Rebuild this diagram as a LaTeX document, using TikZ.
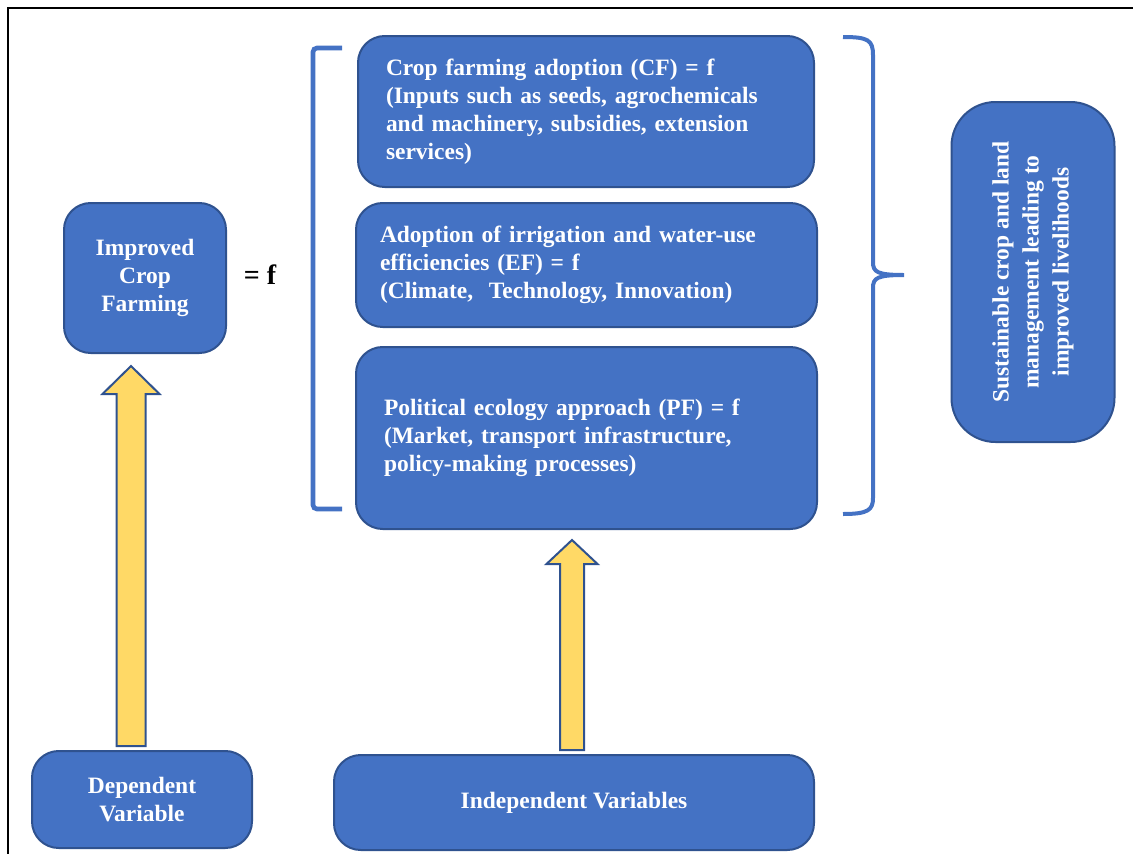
\documentclass[tikz,border=0pt]{standalone}
\usepackage{fontspec}
\setmainfont{Liberation Serif}
\usetikzlibrary{calc}
\definecolor{boxblue}{HTML}{4472C4}
\definecolor{boxedge}{HTML}{2F528F}
\definecolor{arrowgold}{HTML}{FFD966}
\begin{document}
\begin{tikzpicture}[x=0.75pt,y=-0.75pt,
  varbox/.style={rectangle,rounded corners=20pt,draw=boxedge,fill=boxblue,line width=1.5pt,
    text=white,font=\fontsize{17.6}{21}\selectfont\bfseries,inner sep=0pt},
  uparrow/.style={draw=boxedge,fill=arrowgold,line width=1.5pt,line join=miter},
  bracket/.style={draw=boxblue,line width=3.5pt}]
\useasboundingbox (0,0) rectangle (1133,854);
\draw[line width=2pt] (8,854) -- (8,8) -- (1133,8);
\node[varbox,minimum width=121.5pt,minimum height=112.5pt,align=center] (icf) at (145,278)
  {Improved\\Crop\\Farming};
\node[font=\fontsize{21}{24}\selectfont\bfseries] (eqf) at (260,275) {= f};
\node[varbox,text width=300pt,inner xsep=21pt,minimum height=113.25pt,align=left] (cf) at (586,111.5)
  {Crop farming adoption (CF) = f\\(Inputs such as seeds, agrochemicals\\and machinery, subsidies, extension\\services)};
\node[varbox,text width=309.75pt,inner xsep=18pt,minimum height=93pt,align=left] (ef) at (586.5,265)
  {Adoption of irrigation and water-use\\efficiencies (EF) = f\\(Climate,\ \ Technology, Innovation)};
\node[varbox,text width=303.75pt,inner xsep=21pt,minimum height=136.5pt,align=left] (pf) at (586.5,438)
  {Political ecology approach (PF) = f\\(Market, transport infrastructure,\\policy-making processes)};
\node[varbox,rotate=90,rounded corners=33pt,minimum width=255pt,minimum height=122.25pt,align=center,
  font=\fontsize{17.6}{22.5}\selectfont\bfseries] (slm) at (1033,272)
  {Sustainable crop and land\\management leading to\\improved livelihoods};
\node[varbox,minimum width=165pt,minimum height=72.75pt,align=center] (dep) at (142,799.5)
  {Dependent\\Variable};
\node[varbox,minimum width=360pt,minimum height=71.25pt] (indep) at (574,802.5)
  {Independent Variables};
\coordinate (tipA) at ($(icf.south)+(-14,12)$);
\draw[uparrow] (tipA) -- ++(28.5,28) -- ++(-14,0) -- ++(0,352) -- ++(-29,0) -- ++(0,-352)
  -- ++(-14,0) -- cycle;
\coordinate (tipB) at ($(pf.south)+(-14.5,10)$);
\draw[uparrow] (tipB) -- ++(25.5,24) -- ++(-13.5,0) -- ++(0,186) -- ++(-24,0) -- ++(0,-186)
  -- ++(-13.5,0) -- cycle;
\draw[bracket,rounded corners=3pt] (342,48) -- (313,48) -- (313,509) -- (342,509);
\draw[bracket,line width=3pt] (843,37) .. controls (868,37) and (873,40) .. (873,55) -- (873,262)
  .. controls (873,272) and (877,275) .. (904,275)
  .. controls (877,275) and (873,278) .. (873,288) -- (873,498)
  .. controls (873,510) and (868,514) .. (843,514);
\end{tikzpicture}
\end{document}
